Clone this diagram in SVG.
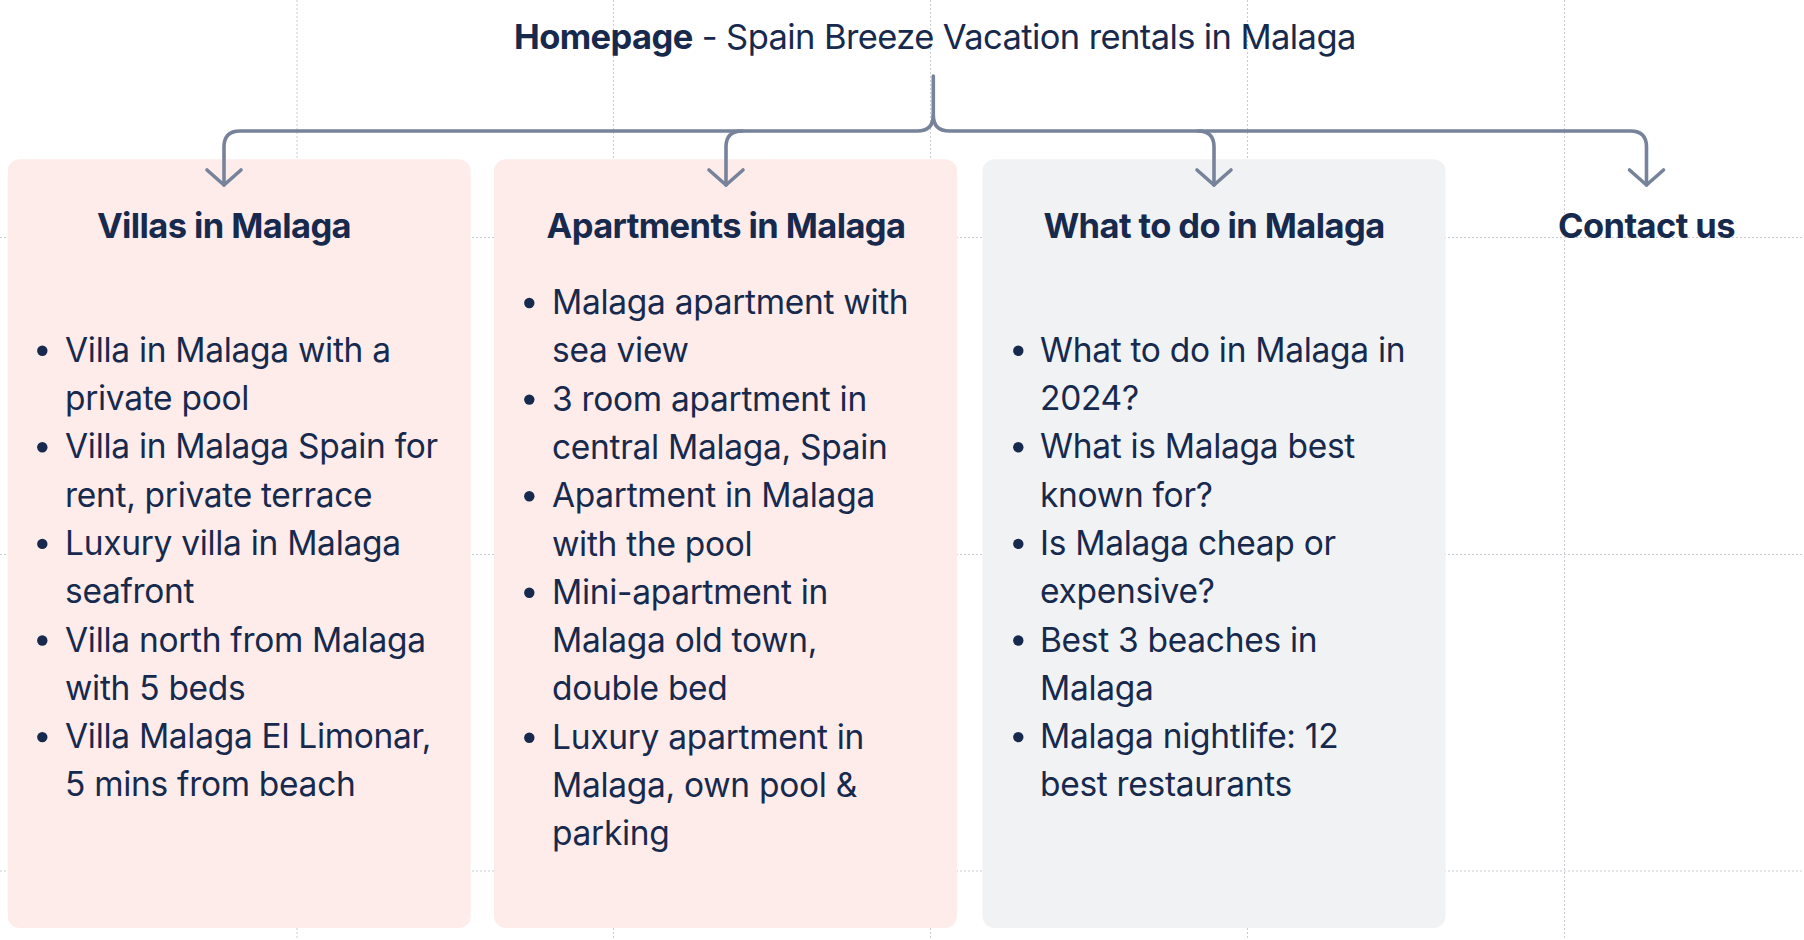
<svg xmlns="http://www.w3.org/2000/svg" width="1804" height="940" viewBox="0 0 1804 940">
<style>
.grid{stroke:#c9ccd2;stroke-width:1;stroke-dasharray:2 2;fill:none}
.pink{fill:#fdecea}
.gray{fill:#f1f2f4}
.t{font-family:Inter,"Noto Sans","Liberation Sans",sans-serif;fill:#172a4e}
.h{font-size:34.5px;font-weight:700;text-anchor:middle;letter-spacing:-0.6px}
.li{font-size:33.5px;font-weight:400;letter-spacing:-0.3px}
.b{fill:#172a4e}
.conn{fill:none;stroke:#77839a;stroke-width:3.6;stroke-linecap:round;stroke-linejoin:round}
</style>
<defs>
<marker id="arr" markerUnits="userSpaceOnUse" viewBox="-20 -20 24 40" refX="0" refY="0" markerWidth="24" markerHeight="40" orient="auto" overflow="visible">
<polyline points="-15,-17 0,0 -15,17" fill="none" stroke="#77839a" stroke-width="3.6" stroke-linecap="round" stroke-linejoin="round"/>
</marker>
</defs>
<rect width="1804" height="940" fill="#ffffff"/>
<g id="grid">
<line class="grid" x1="297" y1="0" x2="297" y2="940"/>
<line class="grid" x1="613.5" y1="0" x2="613.5" y2="940"/>
<line class="grid" x1="930.5" y1="0" x2="930.5" y2="940"/>
<line class="grid" x1="1247.5" y1="0" x2="1247.5" y2="940"/>
<line class="grid" x1="1564.5" y1="0" x2="1564.5" y2="940"/>
<line class="grid" x1="0" y1="237.5" x2="1804" y2="237.5"/>
<line class="grid" x1="0" y1="554.5" x2="1804" y2="554.5"/>
<line class="grid" x1="0" y1="871" x2="1804" y2="871"/>
</g>
<g id="title">
<text class="t" x="514" y="48.5" font-size="34.5" letter-spacing="-0.6"><tspan font-weight="700">Homepage</tspan><tspan font-weight="400"> - Spain Breeze Vacation rentals in Malaga</tspan></text>
</g>
<g id="villas">
<rect class="pink" x="7.7" y="159.3" width="463" height="768.7" rx="12"/>
<text class="t h" x="224" y="238.3">Villas in Malaga</text>
<circle class="b" cx="42.3" cy="350.7" r="5.2"/>
<circle class="b" cx="42.3" cy="447.3" r="5.2"/>
<circle class="b" cx="42.3" cy="543.9" r="5.2"/>
<circle class="b" cx="42.3" cy="640.5" r="5.2"/>
<circle class="b" cx="42.3" cy="737.1" r="5.2"/>
<text class="t li" x="65" y="361.7"><tspan x="65">Villa in Malaga with a</tspan><tspan x="65" dy="48.3">private pool</tspan><tspan x="65" dy="48.3">Villa in Malaga Spain for</tspan><tspan x="65" dy="48.3">rent, private terrace</tspan><tspan x="65" dy="48.3">Luxury villa in Malaga</tspan><tspan x="65" dy="48.3">seafront</tspan><tspan x="65" dy="48.3">Villa north from Malaga</tspan><tspan x="65" dy="48.3">with 5 beds</tspan><tspan x="65" dy="48.3">Villa Malaga El Limonar,</tspan><tspan x="65" dy="48.3">5 mins from beach</tspan></text>
</g>
<g id="apartments">
<rect class="pink" x="494" y="159.3" width="463" height="768.7" rx="12"/>
<text class="t h" x="726" y="238.3">Apartments in Malaga</text>
<circle class="b" cx="529.3" cy="303" r="5.2"/>
<circle class="b" cx="529.3" cy="399.6" r="5.2"/>
<circle class="b" cx="529.3" cy="496.2" r="5.2"/>
<circle class="b" cx="529.3" cy="592.8" r="5.2"/>
<circle class="b" cx="529.3" cy="737.7" r="5.2"/>
<text class="t li" x="552" y="314"><tspan x="552">Malaga apartment with</tspan><tspan x="552" dy="48.3">sea view</tspan><tspan x="552" dy="48.3">3 room apartment in</tspan><tspan x="552" dy="48.3">central Malaga, Spain</tspan><tspan x="552" dy="48.3">Apartment in Malaga</tspan><tspan x="552" dy="48.3">with the pool</tspan><tspan x="552" dy="48.3">Mini-apartment in</tspan><tspan x="552" dy="48.3">Malaga old town,</tspan><tspan x="552" dy="48.3">double bed</tspan><tspan x="552" dy="48.3">Luxury apartment in</tspan><tspan x="552" dy="48.3">Malaga, own pool &amp;</tspan><tspan x="552" dy="48.3">parking</tspan></text>
</g>
<g id="whattodo">
<rect class="gray" x="982.5" y="159.3" width="463" height="768.7" rx="12"/>
<text class="t h" x="1214" y="238.3">What to do in Malaga</text>
<circle class="b" cx="1018.3" cy="350.7" r="5.2"/>
<circle class="b" cx="1018.3" cy="447.3" r="5.2"/>
<circle class="b" cx="1018.3" cy="543.9" r="5.2"/>
<circle class="b" cx="1018.3" cy="640.5" r="5.2"/>
<circle class="b" cx="1018.3" cy="737.1" r="5.2"/>
<text class="t li" x="1040" y="361.7"><tspan x="1040">What to do in Malaga in</tspan><tspan x="1040" dy="48.3">2024?</tspan><tspan x="1040" dy="48.3">What is Malaga best</tspan><tspan x="1040" dy="48.3">known for?</tspan><tspan x="1040" dy="48.3">Is Malaga cheap or</tspan><tspan x="1040" dy="48.3">expensive?</tspan><tspan x="1040" dy="48.3">Best 3 beaches in</tspan><tspan x="1040" dy="48.3">Malaga</tspan><tspan x="1040" dy="48.3">Malaga nightlife: 12</tspan><tspan x="1040" dy="48.3">best restaurants</tspan></text>
</g>
<g id="contact">
<text class="t h" x="1646.5" y="238.3">Contact us</text>
</g>
<g id="connectors">
<path class="conn" d="M933.3 76 V115 Q933.3 131 917.3 131 H240 Q224 131 224 147 V185" marker-end="url(#arr)"/>
<path class="conn" d="M742 131 Q726 131 726 147 V185" marker-end="url(#arr)"/>
<path class="conn" d="M933.3 115 Q933.3 131 949.3 131 H1630.5 Q1646.5 131 1646.5 147 V185" marker-end="url(#arr)"/>
<path class="conn" d="M1198 131 Q1214 131 1214 147 V185" marker-end="url(#arr)"/>
</g>
</svg>
